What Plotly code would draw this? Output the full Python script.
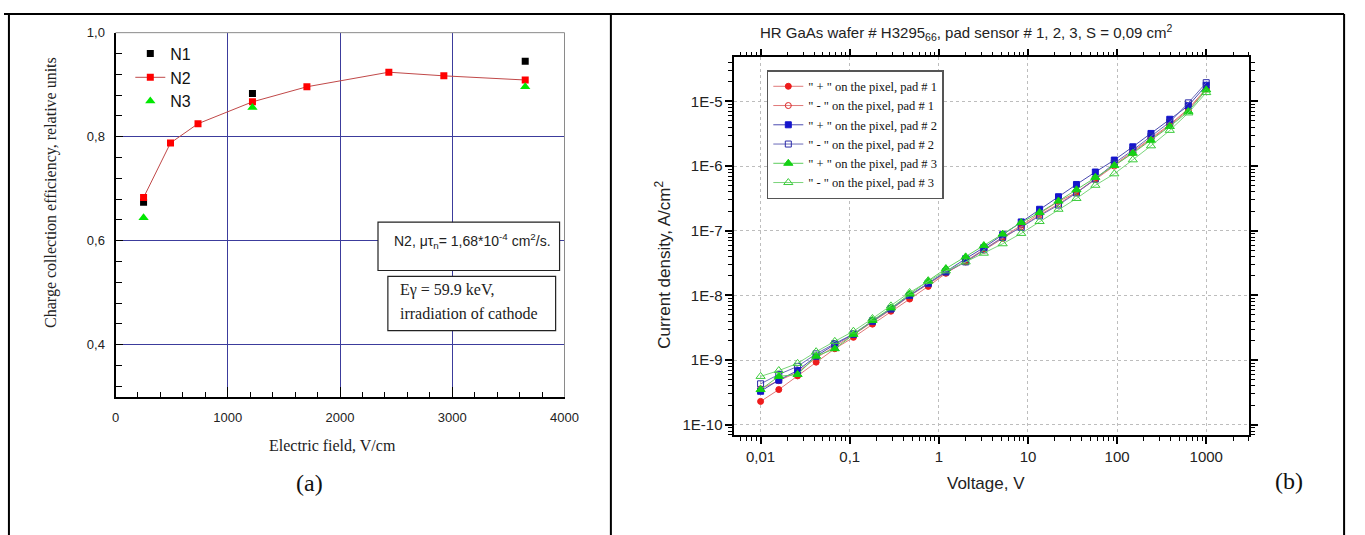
import plotly.graph_objects as go

W, H = 1365, 535


def px(x):
    return x / W


def py(y):
    return 1 - y / H


# ---------------- Panel (a) data ----------------
E_N1 = [250, 1220, 3650]
CCE_N1 = [0.674, 0.883, 0.945]
E_N2 = [250, 490, 735, 1220, 1705, 2435, 2925, 3650]
CCE_N2 = [0.683, 0.788, 0.825, 0.867, 0.896, 0.924, 0.917, 0.909]
E_N3 = [250, 1220, 3650]
CCE_N3 = [0.644, 0.856, 0.896]

a_xticks = [0, 1000, 2000, 3000, 4000]
a_xticktext = ["0", "1000", "2000", "3000", "4000"]
a_yticks = [0.4, 0.6, 0.8, 1.0]
a_yticktext = ["0,4", "0,6", "0,8", "1,0"]

# ---------------- Panel (b) data ----------------
V = [0.01, 0.016, 0.026, 0.042, 0.068, 0.11, 0.18, 0.29, 0.47, 0.76, 1.2, 2.0,
     3.2, 5.2, 8.4, 13.5, 22, 35, 57, 93, 150, 240, 390, 630, 1000]
J_pad1_plus = [2.3e-10, 3.5e-10, 5.7e-10, 9.3e-10, 1.5e-9, 2.25e-9, 3.6e-9, 5.7e-9,
               8.8e-9, 1.38e-8, 2.2e-8, 3.4e-8, 5.2e-8, 7.9e-8, 1.22e-7, 1.85e-7,
               2.85e-7, 3.9e-7, 6.4e-7, 1.04e-6, 1.65e-6, 2.7e-6, 4.4e-6, 7.7e-6, 1.58e-5]
J_pad1_minus = [3.6e-10, 4.8e-10, 6.5e-10, 1.08e-9, 1.62e-9, 2.45e-9, 3.9e-9, 6.0e-9,
                9.8e-9, 1.5e-8, 2.25e-8, 3.3e-8, 5.0e-8, 7.6e-8, 1.15e-7, 1.75e-7,
                2.6e-7, 3.9e-7, 6.2e-7, 1.0e-6, 1.6e-6, 2.6e-6, 4.25e-6, 7.4e-6, 1.55e-5]
J_pad2_plus = [3.3e-10, 4.9e-10, 6.9e-10, 1.15e-9, 1.75e-9, 2.5e-9, 4.0e-9, 6.2e-9,
               1.0e-8, 1.55e-8, 2.35e-8, 3.7e-8, 5.5e-8, 8.7e-8, 1.37e-7, 2.15e-7,
               3.36e-7, 5.2e-7, 8.1e-7, 1.24e-6, 1.99e-6, 3.2e-6, 5.3e-6, 8.6e-6, 1.78e-5]
J_pad2_minus = [4.3e-10, 6.0e-10, 8.0e-10, 1.25e-9, 1.8e-9, 2.55e-9, 4.05e-9, 6.2e-9,
                1.0e-8, 1.52e-8, 2.3e-8, 3.3e-8, 5.1e-8, 7.9e-8, 1.13e-7, 1.7e-7,
                2.5e-7, 3.85e-7, 6.3e-7, 1.11e-6, 1.77e-6, 2.9e-6, 4.8e-6, 9.5e-6, 1.95e-5]
J_pad3_plus = [3.5e-10, 5.6e-10, 6.0e-10, 1.15e-9, 1.5e-9, 2.5e-9, 4.1e-9, 6.4e-9,
               1.05e-8, 1.69e-8, 2.6e-8, 3.95e-8, 5.9e-8, 8.9e-8, 1.34e-7, 1.91e-7,
               2.88e-7, 4.3e-7, 6.7e-7, 1.02e-6, 1.58e-6, 2.5e-6, 4.1e-6, 7.0e-6, 1.51e-5]
J_pad3_minus = [5.6e-10, 6.9e-10, 8.9e-10, 1.35e-9, 1.95e-9, 2.8e-9, 4.4e-9, 6.9e-9,
                1.11e-8, 1.65e-8, 2.4e-8, 3.3e-8, 4.5e-8, 6.3e-8, 9.1e-8, 1.39e-7,
                2.15e-7, 3.16e-7, 5.05e-7, 7.6e-7, 1.25e-6, 2.06e-6, 3.57e-6, 6.65e-6, 1.37e-5]

b_names = ['" + " on the pixel, pad # 1', '" - " on the pixel, pad # 1',
           '" + " on the pixel, pad # 2', '" - " on the pixel, pad # 2',
           '" + " on the pixel, pad # 3', '" - " on the pixel, pad # 3']
b_series = [J_pad1_plus, J_pad1_minus, J_pad2_plus, J_pad2_minus, J_pad3_plus, J_pad3_minus]

b_xticks = [0.01, 0.1, 1, 10, 100, 1000]
b_xticktext = ["0,01", "0,1", "1", "10", "100", "1000"]
b_yticks = [1e-10, 1e-9, 1e-8, 1e-7, 1e-6, 1e-5]
b_yticktext = ["1E-10", "1E-9", "1E-8", "1E-7", "1E-6", "1E-5"]

# ---------------- styles ----------------
b_styles = [
    dict(symbol="circle", mc="#ee1c1c", lc="#e07878", size=6),
    dict(symbol="circle-open", mc="#dd2828", lc="#e07878", size=6),
    dict(symbol="square", mc="#1515cc", lc="#4a4ab0", size=6),
    dict(symbol="square-open", mc="#2a2aa8", lc="#6a6ab8", size=6),
    dict(symbol="triangle-up", mc="#14d214", lc="#5ccc5c", size=8),
    dict(symbol="triangle-up-open", mc="#3ccc3c", lc="#7ad47a", size=8),
]

fig = go.Figure()

# Panel (a) traces
fig.add_trace(go.Scatter(x=E_N1, y=CCE_N1, mode="markers", name="N1",
                         marker=dict(symbol="square", size=7, color="black"),
                         xaxis="x", yaxis="y", legend="legend"))
fig.add_trace(go.Scatter(x=E_N2, y=CCE_N2, mode="lines+markers", name="N2",
                         line=dict(color="#c04848", width=1),
                         marker=dict(symbol="square", size=7, color="#ff0000"),
                         xaxis="x", yaxis="y", legend="legend"))
fig.add_trace(go.Scatter(x=E_N3, y=CCE_N3, mode="markers", name="N3",
                         marker=dict(symbol="triangle-up", size=9, color="#00e800"),
                         xaxis="x", yaxis="y", legend="legend"))

# Panel (b) traces
for name, vals, st in zip(b_names, b_series, b_styles):
    fig.add_trace(go.Scatter(
        x=V, y=vals, mode="lines+markers", name=name,
        line=dict(color=st["lc"], width=1),
        marker=dict(symbol=st["symbol"], size=st["size"], color=st["mc"],
                    line=dict(color=st["mc"], width=1)),
        xaxis="x2", yaxis="y2", legend="legend2"))

minor_log_x = [k * 10.0 ** e for e in range(-3, 4) for k in range(2, 10)]
minor_log_y = [k * 10.0 ** e for e in range(-11, -4) for k in range(2, 10)]

tickfont_a = dict(family="Arial", size=13, color="#222")
tickfont_b = dict(family="Arial", size=15, color="#222")

fig.update_layout(
    width=W, height=H, margin=dict(l=0, r=0, t=0, b=0),
    paper_bgcolor="white", plot_bgcolor="white", showlegend=True,
    xaxis=dict(domain=[px(113), px(568)], range=[0, 4000], anchor="y",
               tickmode="array", tickvals=a_xticks, ticktext=a_xticktext,
               ticks="inside", ticklen=10, tickwidth=1.2, tickcolor="black",
               showline=True, linecolor="black", linewidth=2,
               showgrid=True, gridcolor="#3c3c9c", gridwidth=1, zeroline=False,
               tickfont=tickfont_a, ticklabelstandoff=8,
               minor=dict(tickmode="linear", tick0=0, dtick=200, ticks="inside",
                          ticklen=5, tickwidth=1.2, tickcolor="black", showgrid=False)),
    yaxis=dict(domain=[py(395), py(26)], range=[0.3, 1.0], anchor="x",
               tickmode="array", tickvals=a_yticks, ticktext=a_yticktext,
               ticks="inside", ticklen=7, tickwidth=1.2, tickcolor="black",
               showline=True, linecolor="black", linewidth=2,
               showgrid=True, gridcolor="#3c3c9c", gridwidth=1, zeroline=False,
               tickfont=tickfont_a, ticklabelstandoff=6,
               minor=dict(tickmode="linear", tick0=0, dtick=0.04, ticks="inside",
                          ticklen=6, tickwidth=1.2, tickcolor="black", showgrid=False)),
    xaxis2=dict(domain=[px(740), px(1262)], type="log", range=[-2.2957, 3.484], anchor="y2",
                tickmode="array", tickvals=b_xticks, ticktext=b_xticktext,
                ticks="outside", ticklen=7, tickwidth=1.5, tickcolor="black",
                showline=True, linecolor="black", linewidth=1.5, mirror="allticks",
                showgrid=True, gridcolor="#bdbdbd", gridwidth=1, griddash="dot",
                zeroline=False, tickfont=tickfont_b,
                minor=dict(tickmode="array", tickvals=minor_log_x, ticks="outside",
                           ticklen=4, tickwidth=1.2, tickcolor="black", showgrid=False)),
    yaxis2=dict(domain=[py(434), py(51)], type="log", range=[-10.163, -4.318], anchor="x2",
                tickmode="array", tickvals=b_yticks, ticktext=b_yticktext,
                ticks="outside", ticklen=7, tickwidth=1.5, tickcolor="black",
                showline=True, linecolor="black", linewidth=1.5, mirror="allticks",
                showgrid=True, gridcolor="#bdbdbd", gridwidth=1, griddash="dot",
                zeroline=False, tickfont=tickfont_b,
                minor=dict(tickmode="array", tickvals=minor_log_y, ticks="outside",
                           ticklen=4, tickwidth=1.2, tickcolor="black", showgrid=False)),
    legend=dict(x=px(128), y=py(30), xanchor="left", yanchor="top",
                font=dict(family="Arial", size=16, color="#111"),
                bgcolor="rgba(0,0,0,0)", borderwidth=0, tracegroupgap=0),
    legend2=dict(x=px(773), y=py(64), xanchor="left", yanchor="top",
                 font=dict(family="Liberation Serif", size=12.5, color="#111"),
                 bgcolor="white", bordercolor="#555", borderwidth=1.5, tracegroupgap=0),
)

shapes = []
# table borders
for (x0, y0, x1, y1) in [(0, 7, 1358, 7), (5, 7, 5, 535), (615, 7, 615, 535), (1358, 7, 1358, 535)]:
    shapes.append(dict(type="line", xref="paper", yref="paper",
                       x0=px(x0), y0=py(y0), x1=px(x1), y1=py(y1),
                       line=dict(color="black", width=2)))
# panel (a) top/right frame (gray)
shapes.append(dict(type="line", xref="paper", yref="paper", x0=px(113), y0=py(26), x1=px(568), y1=py(26),
                   line=dict(color="#8a8a8a", width=1), layer="above"))
shapes.append(dict(type="line", xref="paper", yref="paper", x0=px(568), y0=py(26), x1=px(568), y1=py(395),
                   line=dict(color="#8a8a8a", width=1), layer="above"))
# annotation boxes (a)
shapes.append(dict(type="rect", xref="paper", yref="paper", x0=px(379), y0=py(267), x1=px(563), y1=py(218),
                   line=dict(color="#222", width=1.2), fillcolor="white", layer="above"))
shapes.append(dict(type="rect", xref="paper", yref="paper", x0=px(389), y0=py(328), x1=px(559), y1=py(273),
                   line=dict(color="#222", width=1.2), fillcolor="white", layer="above"))
fig.update_layout(shapes=shapes)

serif = "Liberation Serif"
ann = [
    dict(text="Charge collection efficiency, relative units", x=px(47), y=py(188), textangle=-90,
         font=dict(family=serif, size=16, color="#222")),
    dict(text="Electric field, V/cm", x=px(333), y=py(444),
         font=dict(family=serif, size=16, color="#222")),
    dict(text="(a)", x=px(310), y=py(482), font=dict(family=serif, size=24, color="#111")),
    dict(text="N2, μτ<sub>n</sub>= 1,68*10<sup>-4</sup> cm<sup>2</sup>/s.", x=px(393), y=py(237),
         xanchor="left", font=dict(family="Arial", size=14, color="#222")),
    dict(text="Eγ = 59.9 keV,", x=px(399), y=py(287), xanchor="left",
         font=dict(family=serif, size=16, color="#222")),
    dict(text="irradiation of cathode", x=px(399), y=py(311), xanchor="left",
         font=dict(family=serif, size=16, color="#222")),
    dict(text="HR GaAs wafer # H3295<sub>66</sub>, pad sensor # 1, 2, 3, S = 0,09 cm<sup>2</sup>",
         x=px(975), y=py(26), font=dict(family="Arial", size=15, color="#222")),
    dict(text="Current density, A/cm<sup>2</sup>", x=px(667), y=py(261), textangle=-90,
         font=dict(family="Arial", size=17, color="#222")),
    dict(text="Voltage, V", x=px(995), y=py(483), font=dict(family="Arial", size=17, color="#222")),
    dict(text="(b)", x=px(1302), y=py(480), font=dict(family=serif, size=24, color="#111")),
]
for a in ann:
    a.update(xref="paper", yref="paper", showarrow=False)
    a.setdefault("xanchor", "center")
    a.setdefault("yanchor", "middle")
fig.update_layout(annotations=ann)

fig.write_html("out.html", config={"displayModeBar": False},
               post_script="document.body.style.margin='0';document.body.style.padding='0';"
                           "document.body.style.overflow='hidden';")
